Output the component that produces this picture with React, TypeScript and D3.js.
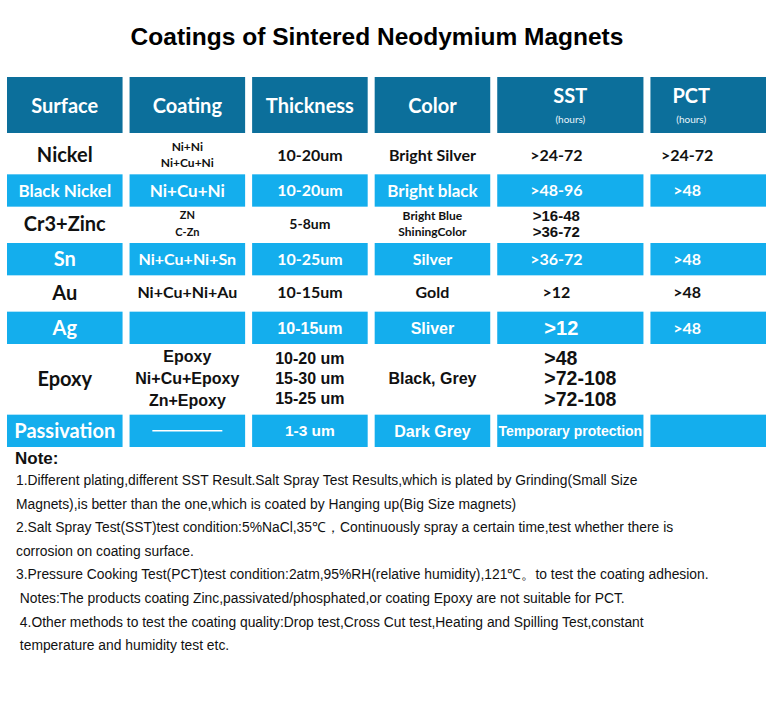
import React from "react";
import * as d3 from "d3";

const title = "Coatings of Sintered Neodymium Magnets";
const columns = ["Surface", "Coating", "Thickness", "Color", "SST", "PCT"];
const columnSubs = ["", "", "", "", "(hours)", "(hours)"];

const surfaces = ["Nickel", "Black Nickel", "Cr3+Zinc", "Sn", "Au", "Ag", "Epoxy", "Passivation"];
const coatings = [["Ni+Ni", "Ni+Cu+Ni"], ["Ni+Cu+Ni"], ["ZN", "C-Zn"], ["Ni+Cu+Ni+Sn"], ["Ni+Cu+Ni+Au"], [], ["Epoxy", "Ni+Cu+Epoxy", "Zn+Epoxy"], ["—"]];
const thickness = [["10-20um"], ["10-20um"], ["5-8um"], ["10-25um"], ["10-15um"], ["10-15um"], ["10-20 um", "15-30 um", "15-25 um"], ["1-3 um"]];
const colors = [["Bright Silver"], ["Bright black"], ["Bright Blue", "ShiningColor"], ["Silver"], ["Gold"], ["Sliver"], ["Black, Grey"], ["Dark Grey"]];
const sstHours = [[">24-72"], [">48-96"], [">16-48", ">36-72"], [">36-72"], [">12"], [">12"], [">48", ">72-108", ">72-108"], ["Temporary protection"]];
const pctHours = [[">24-72"], [">48"], [], [">48"], [">48"], [">48"], [], []];

const notes = [
  "1.Different plating,different SST Result.Salt Spray Test Results,which is plated by Grinding(Small Size",
  "Magnets),is better than the one,which is coated by Hanging up(Big Size magnets)",
  "2.Salt Spray Test(SST)test condition:5%NaCl,35℃，Continuously spray a certain time,test whether there is",
  "corrosion on coating surface.",
  "3.Pressure Cooking Test(PCT)test condition:2atm,95%RH(relative humidity),121℃。to test the coating adhesion.",
  " Notes:The products coating Zinc,passivated/phosphated,or coating Epoxy are not suitable for PCT.",
  " 4.Other methods to test the coating quality:Drop test,Cross Cut test,Heating and Spilling Test,constant",
  " temperature and humidity test etc.",
];

const DARK = "#0c6f9b";
const LIGHT = "#14aeed";
const CAL = "Lato, 'Open Sans', sans-serif";
const ARIAL = "'Liberation Sans', Arial, sans-serif";

const W = 771;
const H = 710;

// column widths: SST a little wider
const colWeights = [1, 1, 1, 1, 1.25, 1];
const colGap = 7;

const cellStyle = (r: number, c: number) => {
  let s = { family: CAL, size: 16, lh: 18, dx: 0, anchor: "middle" };
  if (c === 0) s.size = r === 1 ? 17 : 20;
  if (c === 1) {
    if (r === 0) s = { ...s, size: 12, lh: 16 };
    if (r === 1) s.size = 17;
    if (r === 2) s = { ...s, size: 11, lh: 17 };
    if (r === 6) s = { ...s, family: ARIAL, size: 16, lh: 22 };
  }
  if (c === 2) {
    if (r === 2) s.size = 14;
    if (r >= 5) s = { ...s, family: ARIAL, size: 16, lh: 20 };
    if (r === 7) s.size = 15.5;
  }
  if (c === 3) {
    if (r === 1) s.size = 17;
    if (r === 2) s = { ...s, size: 12, lh: 16 };
    if (r >= 5) s = { ...s, family: ARIAL, size: 16 };
  }
  if (c === 4) {
    s.dx = -14;
    if (r === 2) s = { ...s, family: ARIAL, size: 15, lh: 16 };
    if (r === 5) s = { ...s, family: ARIAL, size: 20, dx: -9 };
    if (r === 6) s = { ...s, family: ARIAL, size: 19.5, lh: 20.5, anchor: "start", dx: -26 };
    if (r === 7) s = { ...s, family: ARIAL, size: 14, dx: 0 };
  }
  if (c === 5) s.dx = -21;
  return s;
};

export default function App() {
  const rows = surfaces.map((s, i) => [[s], coatings[i], thickness[i], colors[i], sstHours[i], pctHours[i]]);
  const units = rows.map((row) => (d3.max(row, (cell) => cell.length) >= 3 ? 2 : 1));
  const cumUnits = [0, ...d3.cumsum(units)];
  const y = d3.scaleLinear().domain([0, d3.sum(units)]).range([138, 447]);

  const cumCols = [0, ...d3.cumsum(colWeights)];
  const x = d3.scaleLinear().domain([0, d3.sum(colWeights)]).range([7, W + colGap - 5]);
  const colX0 = (c: number) => x(cumCols[c]);
  const colX1 = (c: number) => x(cumCols[c + 1]) - colGap;
  const colMid = (c: number) => (colX0(c) + colX1(c)) / 2;

  return (
    <svg width={W} height={H} style={{ position: "absolute", left: 0, top: 0, background: "#fff" }}>
      <rect width={W} height={H} fill="#fff" />
      <text x={377} y={45} textAnchor="middle" fontFamily={ARIAL} fontWeight="bold" fontSize={24.5} fill="#000">
        {title}
      </text>

      {/* header */}
      <g className="header">
        {columns.map((name, c) => (
          <g key={name}>
            <rect x={colX0(c)} y={77} width={colX1(c) - colX0(c)} height={56} fill={DARK} />
            {columnSubs[c] ? (
              <>
                <text x={colMid(c) + (c === 5 ? -17 : 0)} y={103} textAnchor="middle" fontFamily={CAL} fontWeight={700} fontSize={20} fill="#fff">
                  {name}
                </text>
                <text x={colMid(c) + (c === 5 ? -17 : 0)} y={123} textAnchor="middle" fontFamily={CAL} fontSize={10} fill="#e8f4fa">
                  {columnSubs[c]}
                </text>
              </>
            ) : (
              <text x={colMid(c)} y={113} textAnchor="middle" fontFamily={CAL} fontWeight={700} fontSize={20} fill="#fff">
                {name}
              </text>
            )}
          </g>
        ))}
      </g>

      {/* body */}
      <g className="rows">
        {rows.map((row, r) => {
          const top = y(cumUnits[r]);
          const bottom = y(cumUnits[r + 1]);
          const highlight = r % 2 === 1;
          const boxTop = highlight ? top + 2 : top;
          const mid = (boxTop + bottom) / 2;
          const fill = highlight ? "#fff" : "#111";
          return (
            <g key={surfaces[r]}>
              {highlight &&
                columns.map((_, c) => (
                  <rect key={c} x={colX0(c)} y={boxTop} width={colX1(c) - colX0(c)} height={bottom - boxTop} fill={LIGHT} />
                ))}
              {row.map((cell, c) => {
                const st = cellStyle(r, c);
                const cx = colMid(c) + st.dx;
                if (cell.length === 1 && cell[0] === "—") {
                  return <line key={c} x1={cx - 35} x2={cx + 35} y1={mid} y2={mid} stroke={fill} strokeWidth={1.5} />;
                }
                return cell.map((line, i) => (
                  <text
                    key={`${c}-${i}`}
                    x={cx}
                    y={mid + (i - (cell.length - 1) / 2) * st.lh + 0.36 * st.size}
                    textAnchor={st.anchor}
                    fontFamily={st.family}
                    fontWeight="bold"
                    fontSize={st.size}
                    fill={fill}
                  >
                    {line}
                  </text>
                ));
              })}
            </g>
          );
        })}
      </g>

      {/* notes */}
      <g className="notes" fontFamily={ARIAL} fill="#111">
        <text x={15} y={464} fontSize={17} fontWeight="bold">Note:</text>
        {notes.map((n, i) => (
          <text key={i} x={16} y={485 + i * 23.6} fontSize={13.85} style={{ whiteSpace: "pre" }}>
            {n}
          </text>
        ))}
      </g>
    </svg>
  );
}
